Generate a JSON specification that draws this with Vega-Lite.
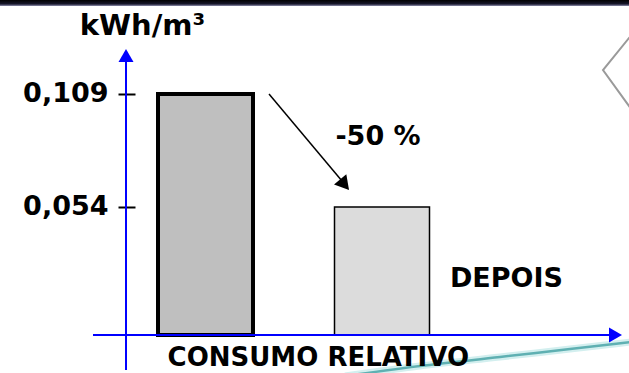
{
  "$schema": "https://vega.github.io/schema/vega-lite/v6.json",
  "width": 629,
  "height": 373,
  "autosize": {"type": "none"},
  "padding": 0,
  "background": "white",
  "config": {"view": {"stroke": null}},
  "datasets": {
    "consumo": [
      {"fase": "ANTES", "consumo": 0.109},
      {"fase": "DEPOIS", "consumo": 0.054}
    ],
    "faixa": [{"u": -0.1643, "u2": 3.3994, "v": 0.15475, "v2": 0.15183}],
    "eixos": [
      {"u": 0.5496, "v": -0.02534, "u2": 0.5496, "v2": 0.12555},
      {"u": 0.3626, "v": -0.00831, "u2": 3.2918, "v2": -0.00831}
    ],
    "ponta_y": [{"u": 0.5496, "v": 0.12774}],
    "ponta_x": [{"u": 3.3229, "v": -0.00831}],
    "seta": [{"u": 1.3598, "v": 0.109, "u2": 1.7734, "v2": 0.06665}],
    "ponta_seta": [{"u": 1.7881, "v": 0.06485}],
    "unidade": [{"texto": "kWh/m³", "u": 0.6431, "v": 0.13771}],
    "textos": [
      {"texto": "-50 %", "u": 1.9773, "v": 0.08417},
      {"texto": "DEPOIS", "u": 2.7054, "v": 0.01506}
    ],
    "rotulo_x": [{"texto": "CONSUMO RELATIVO", "u": 1.6391, "v": -0.0234}],
    "moldura": [
      {"ordem": 1, "u": 3.4164, "v": 0.13805},
      {"ordem": 2, "u": 3.2521, "v": 0.12068},
      {"ordem": 3, "u": 3.4164, "v": 0.10111}
    ],
    "curva": [
      {"u": 1.7904, "v": -0.02826},
      {"u": 2.2153, "v": -0.0234},
      {"u": 2.6686, "v": -0.01901},
      {"u": 3.0652, "v": -0.01512},
      {"u": 3.4164, "v": -0.01171}
    ]
  },
  "layer": [
    {
      "data": {"name": "consumo"},
      "mark": {"type": "bar", "stroke": "black"},
      "encoding": {
        "x": {
          "field": "fase",
          "type": "nominal",
          "scale": {"domain": ["ANTES", "DEPOIS"], "range": [158, 429.5], "paddingInner": 0.4618, "paddingOuter": 0},
          "axis": null
        },
        "y": {
          "field": "consumo",
          "type": "quantitative",
          "scale": {"domain": [-0.0268, 0.15475], "nice": false, "zero": false},
          "axis": {
            "orient": "left",
            "offset": -135,
            "values": [0.054, 0.109],
            "domain": false,
            "grid": false,
            "ticks": true,
            "tickColor": "black",
            "tickSize": 17,
            "tickWidth": 2,
            "labelFont": "DejaVu Sans",
            "labelFontWeight": "bold",
            "labelFontSize": 27,
            "labelColor": "black",
            "labelPadding": 10,
            "labelOverlap": false,
            "labelFlush": false,
            "labelBound": false,
            "title": null,
            "labelExpr": "replace(format(datum.value, '.3f'), '.', ',')"
          }
        },
        "y2": {"datum": -0.00831},
        "fill": {"condition": {"test": "datum.fase === 'ANTES'", "value": "#bfbfbf"}, "value": "#dcdcdc"},
        "strokeWidth": {"condition": {"test": "datum.fase === 'ANTES'", "value": 4}, "value": 1.5}
      }
    },
    {
      "encoding": {
        "x": {"field": "u", "type": "quantitative", "scale": {"domain": [-0.1643, 3.3994], "nice": false, "zero": false}, "axis": null},
        "y": {"field": "v", "type": "quantitative", "scale": {"domain": [-0.0268, 0.15475], "nice": false, "zero": false}, "title": null}
      },
      "layer": [
        {
          "data": {"name": "faixa"},
          "mark": {
            "type": "rect",
            "color": {
              "gradient": "linear", "x1": 0, "y1": 0, "x2": 0, "y2": 1,
              "stops": [
                {"offset": 0, "color": "#000000"},
                {"offset": 0.65, "color": "#16162a"},
                {"offset": 1, "color": "#8c8cab"}
              ]
            }
          },
          "encoding": {"x2": {"field": "u2"}, "y2": {"field": "v2"}}
        },
        {
          "data": {"name": "moldura"},
          "mark": {"type": "line", "color": "#9a9a9a", "strokeWidth": 2},
          "encoding": {"order": {"field": "ordem"}}
        },
        {
          "data": {"name": "curva"},
          "mark": {"type": "line", "color": "#d3efef", "strokeWidth": 7, "interpolate": "monotone"},
          "encoding": {}
        },
        {
          "data": {"name": "curva"},
          "mark": {"type": "line", "color": "#5fb0b2", "strokeWidth": 2.5, "interpolate": "monotone"},
          "encoding": {}
        },
        {
          "data": {"name": "eixos"},
          "mark": {"type": "rule", "color": "#0000ff", "strokeWidth": 2},
          "encoding": {"x2": {"field": "u2"}, "y2": {"field": "v2"}}
        },
        {
          "data": {"name": "ponta_y"},
          "mark": {"type": "point", "shape": "triangle-up", "size": 225, "filled": true, "color": "#0000ff", "opacity": 1, "strokeWidth": 0}
        },
        {
          "data": {"name": "ponta_x"},
          "mark": {"type": "point", "shape": "triangle-right", "size": 225, "filled": true, "color": "#0000ff", "opacity": 1, "strokeWidth": 0}
        },
        {
          "data": {"name": "seta"},
          "mark": {"type": "rule", "color": "black", "strokeWidth": 1.5},
          "encoding": {"x2": {"field": "u2"}, "y2": {"field": "v2"}}
        },
        {
          "data": {"name": "ponta_seta"},
          "mark": {"type": "point", "shape": "triangle-right", "size": 256, "angle": 50.2, "filled": true, "color": "black", "opacity": 1, "strokeWidth": 0}
        },
        {
          "data": {"name": "unidade"},
          "mark": {"type": "text", "font": "DejaVu Sans", "fontWeight": "bold", "fontSize": 29, "align": "center", "baseline": "alphabetic", "color": "black"},
          "encoding": {"text": {"field": "texto"}}
        },
        {
          "data": {"name": "textos"},
          "mark": {"type": "text", "font": "DejaVu Sans", "fontWeight": "bold", "fontSize": 27, "align": "center", "baseline": "alphabetic", "color": "black"},
          "encoding": {"text": {"field": "texto"}}
        },
        {
          "data": {"name": "rotulo_x"},
          "mark": {"type": "text", "font": "DejaVu Sans", "fontWeight": "bold", "fontSize": 26, "align": "center", "baseline": "alphabetic", "color": "black"},
          "encoding": {"text": {"field": "texto"}}
        }
      ]
    }
  ],
  "resolve": {"scale": {"x": "independent"}}
}
